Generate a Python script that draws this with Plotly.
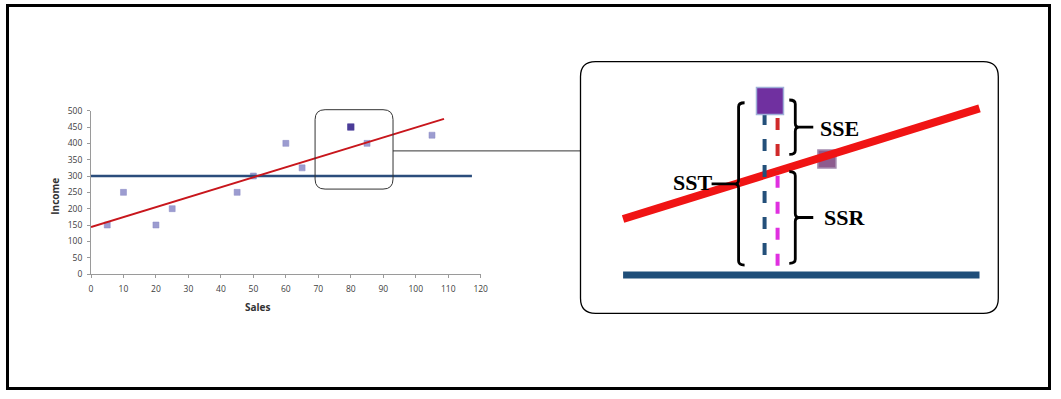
import numpy as np
import plotly.graph_objects as go

W, H = 1061, 399

# ---------------- data ----------------
sales = [5, 10, 20, 25, 45, 50, 60, 65, 80, 85, 105]
income = [150, 250, 150, 200, 250, 300, 400, 325, 450, 400, 425]
highlight_sales = [80]
highlight_income = [450]
neighbour_sales = [85]
neighbour_income = [400]
trend_x = [0, 108.7]
trend_y = [144, 475]
mean_income = 300
mean_x = [0, 117.3]
x_ticks = list(range(0, 121, 10))
y_ticks = list(range(0, 501, 50))
zoom_x = [69, 93]          # highlighted window (data units)
zoom_y = [260, 500]
inset_x = [67.1, 98.4]     # extent of lines in the magnified view
sst_span = [448.5, 308.6]
sse_span = [450.9, 404.0]
ssr_span = [389.1, 310.1]
labels = ["SST", "SSE", "SSR"]

# ---------------- layout geometry (px) ----------------
main_px = dict(x0=91, x1=480.7, y0=274, y1=110.7)       # x0/y0 = data origin
inset_px = dict(x0=580.5, x1=998.3, y0=313.3, y1=61.7)
main_xr, main_yr = [0, 120], [0, 500]
in_xr = [63.36, 100.05]
in_yr = [267.0, 483.9]

SX = (inset_px["x1"] - inset_px["x0"]) / (in_xr[1] - in_xr[0])
SY = (inset_px["y0"] - inset_px["y1"]) / (in_yr[1] - in_yr[0])


def pp(x, y):
    return f"{x / W:.5f},{1 - y / H:.5f}"


def main_to_px(x, y):
    px = main_px["x0"] + (x - main_xr[0]) / (main_xr[1] - main_xr[0]) * (main_px["x1"] - main_px["x0"])
    py = main_px["y0"] - (y - main_yr[0]) / (main_yr[1] - main_yr[0]) * (main_px["y0"] - main_px["y1"])
    return px, py


def rrect(x0, y0, x1, y1, r):
    return (f"M {pp(x0 + r, y0)} L {pp(x1 - r, y0)} Q {pp(x1, y0)} {pp(x1, y0 + r)} "
            f"L {pp(x1, y1 - r)} Q {pp(x1, y1)} {pp(x1 - r, y1)} L {pp(x0 + r, y1)} "
            f"Q {pp(x0, y1)} {pp(x0, y1 - r)} L {pp(x0, y0 + r)} Q {pp(x0, y0)} {pp(x0 + r, y0)} Z")


def bracket(x, ytop, ybot, side, serif, tip, r=4):
    """side=+1 -> '[' (serifs right, tip left); side=-1 -> ']'"""
    ymid = (ytop + ybot) / 2
    ds = side * serif / SX
    dr = -side * r / SX
    dt = -side * tip / SX
    ry = r / SY
    f = lambda a, b: f"{a:.4f},{b:.4f}"
    return (f"M {f(x + ds, ytop)} Q {f(x, ytop)} {f(x, ytop - ry)} "
            f"L {f(x, ymid + ry)} Q {f(x, ymid)} {f(x + dr, ymid)} L {f(x + dt, ymid)} "
            f"M {f(x + dr, ymid)} Q {f(x, ymid)} {f(x, ymid - ry)} "
            f"L {f(x, ybot + ry)} Q {f(x, ybot)} {f(x + ds, ybot)}")


fig = go.Figure()

# ---------------- main chart ----------------
fig.add_trace(go.Scatter(x=sales, y=income, mode="markers",
                         marker=dict(symbol="square", size=6, color="#9c9cd0",
                                     line=dict(color="#8a8ac4", width=0.5)),
                         xaxis="x", yaxis="y", showlegend=False))
fig.add_trace(go.Scatter(x=mean_x, y=[mean_income] * 2, mode="lines",
                         line=dict(color="#2b4d7c", width=2.5), showlegend=False))
fig.add_trace(go.Scatter(x=trend_x, y=trend_y, mode="lines",
                         line=dict(color="#c8161c", width=2), showlegend=False))
fig.add_trace(go.Scatter(x=highlight_sales, y=highlight_income, mode="markers",
                         marker=dict(symbol="square", size=7, color="#4b3c98"),
                         showlegend=False))

# ---------------- inset (magnified) ----------------
t_in = np.interp(inset_x, trend_x, trend_y)
hx = highlight_sales[0]
hy = highlight_income[0]
fit_h = float(np.interp(hx + 7.6 / SX, trend_x, trend_y))

fig.add_trace(go.Scatter(x=neighbour_sales, y=neighbour_income, mode="markers",
                         marker=dict(symbol="square", size=18, color="#8d5c8e",
                                     line=dict(color="#a48aae", width=1.5)),
                         xaxis="x2", yaxis="y2", showlegend=False))
fig.add_trace(go.Scatter(x=inset_x, y=t_in, mode="lines",
                         line=dict(color="#f01414", width=8),
                         xaxis="x2", yaxis="y2", showlegend=False))
fig.add_trace(go.Scatter(x=inset_x, y=[mean_income] * 2, mode="lines",
                         line=dict(color="#1f4e79", width=7),
                         xaxis="x2", yaxis="y2", showlegend=False))
fig.add_trace(go.Scatter(x=[hx - 5.4 / SX] * 2, y=[hy - 10.3, ssr_span[1] - 3], mode="lines",
                         line=dict(color="#24507a", width=4, dash="12px,14px"),
                         xaxis="x2", yaxis="y2", showlegend=False))
fig.add_trace(go.Scatter(x=[hx + 7.6 / SX] * 2, y=[hy - 14.7, fit_h], mode="lines",
                         line=dict(color="#d02a2a", width=4, dash="12px,14px"),
                         xaxis="x2", yaxis="y2", showlegend=False))
fig.add_trace(go.Scatter(x=[hx + 7.6 / SX] * 2, y=[fit_h - 4, ssr_span[1] - 3], mode="lines",
                         line=dict(color="#e030e0", width=4, dash="12px,14px"),
                         xaxis="x2", yaxis="y2", showlegend=False))
fig.add_trace(go.Scatter(x=highlight_sales, y=highlight_income, mode="markers",
                         marker=dict(symbol="square", size=27, color="#7030a0",
                                     line=dict(color="#9fb0d8", width=1.5)),
                         xaxis="x2", yaxis="y2", showlegend=False))

# ---------------- shapes ----------------
shapes = []
# outer frame
shapes.append(dict(type="rect", xref="paper", yref="paper",
                   x0=7.5 / W, x1=1049.5 / W, y0=1 - 388.5 / H, y1=1 - 5.5 / H,
                   line=dict(color="black", width=3)))
# highlighted window on main chart
zx0, zy0 = main_to_px(zoom_x[0], zoom_y[1])
zx1, zy1 = main_to_px(zoom_x[1], zoom_y[0])
shapes.append(dict(type="path", xref="paper", yref="paper",
                   path=rrect(zx0, zy0 - 1, zx1, zy1, 10),
                   line=dict(color="#333333", width=1)))
# connector
cy = (zy0 + zy1) / 2 + 1
shapes.append(dict(type="line", xref="paper", yref="paper",
                   x0=zx1 / W, x1=inset_px["x0"] / W, y0=1 - cy / H, y1=1 - cy / H,
                   line=dict(color="#333333", width=1)))
# inset frame
shapes.append(dict(type="path", xref="paper", yref="paper",
                   path=rrect(inset_px["x0"], inset_px["y1"], inset_px["x1"], inset_px["y0"], 15),
                   line=dict(color="black", width=1.3)))
# brackets
bx_sst = hx - 31.4 / SX
bx_right = hx + 25.3 / SX
shapes.append(dict(type="path", xref="x2", yref="y2",
                   path=bracket(bx_sst, sst_span[0], sst_span[1], +1, 6, 27),
                   line=dict(color="black", width=2.8)))
shapes.append(dict(type="path", xref="x2", yref="y2",
                   path=bracket(bx_right, sse_span[0], sse_span[1], -1, 6, 18),
                   line=dict(color="black", width=2.8)))
shapes.append(dict(type="path", xref="x2", yref="y2",
                   path=bracket(bx_right, ssr_span[0], ssr_span[1], -1, 6, 18),
                   line=dict(color="black", width=2.8)))

# ---------------- annotations ----------------
serif = "Liberation Serif, Times New Roman, serif"
ann = []
ann.append(dict(x=bx_sst - 25 / SX, y=(sst_span[0] + sst_span[1]) / 2 + 1.5, xref="x2", yref="y2",
                text=f"<b>{labels[0]}</b>", showarrow=False, xanchor="right", yanchor="middle",
                font=dict(family=serif, size=22, color="black")))
ann.append(dict(x=bx_right + 23 / SX, y=(sse_span[0] + sse_span[1]) / 2 - 1, xref="x2", yref="y2",
                text=f"<b>{labels[1]}</b>", showarrow=False, xanchor="left", yanchor="middle",
                font=dict(family=serif, size=22, color="black")))
ann.append(dict(x=bx_right + 27 / SX, y=(ssr_span[0] + ssr_span[1]) / 2, xref="x2", yref="y2",
                text=f"<b>{labels[2]}</b>", showarrow=False, xanchor="left", yanchor="middle",
                font=dict(family=serif, size=22, color="black")))
ann.append(dict(x=257.5 / W, y=1 - 307.3 / H, xref="paper", yref="paper", text="<b>Sales</b>",
                xanchor="center", yanchor="middle", showarrow=False,
                font=dict(family="Open Sans, sans-serif", size=10, color="#333333")))
ann.append(dict(x=55 / W, y=1 - 196.7 / H, xref="paper", yref="paper", text="<b>Income</b>",
                xanchor="center", yanchor="middle", textangle=-90, showarrow=False,
                font=dict(family="Open Sans, sans-serif", size=10, color="#333333")))

tickfont = dict(family="Open Sans, sans-serif", size=8.5, color="#404040")
axis_common = dict(showgrid=False, zeroline=False, showline=True, linecolor="#9a9a9a",
                   linewidth=1, ticks="outside", ticklen=3, tickcolor="#9a9a9a",
                   tickfont=tickfont, automargin=False, fixedrange=True)

fig.update_layout(
    width=W, height=H, autosize=False,
    margin=dict(l=0, r=0, t=0, b=0, pad=0),
    paper_bgcolor="white", plot_bgcolor="rgba(0,0,0,0)",
    showlegend=False,
    xaxis=dict(domain=[main_px["x0"] / W, main_px["x1"] / W], range=main_xr,
               tickvals=x_ticks, anchor="y", ticklabelstandoff=4, **axis_common),
    yaxis=dict(domain=[1 - main_px["y0"] / H, 1 - main_px["y1"] / H], range=main_yr,
               tickvals=y_ticks, anchor="x", ticklabelstandoff=3, **axis_common),
    xaxis2=dict(domain=[inset_px["x0"] / W, inset_px["x1"] / W], range=in_xr,
                visible=False, anchor="y2", fixedrange=True),
    yaxis2=dict(domain=[1 - inset_px["y0"] / H, 1 - inset_px["y1"] / H], range=in_yr,
                visible=False, anchor="x2", fixedrange=True),
    shapes=shapes,
    annotations=ann,
)

fig.write_html("out.html")
